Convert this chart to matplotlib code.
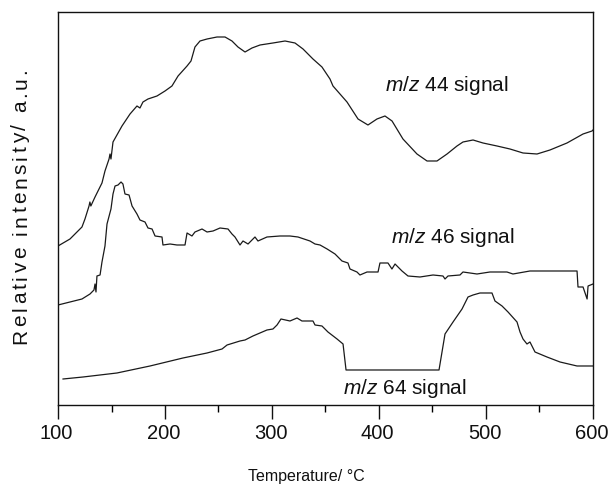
import numpy as np
import matplotlib
matplotlib.use("Agg")
import matplotlib.pyplot as plt
from matplotlib.ticker import MultipleLocator
from matplotlib.transforms import ScaledTranslation
from matplotlib.font_manager import FontProperties

plt.rcParams['font.family'] = ['Liberation Sans', 'DejaVu Sans']
plt.rcParams['mathtext.fontset'] = 'custom'
plt.rcParams['mathtext.it'] = 'Liberation Sans:italic'
plt.rcParams['mathtext.rm'] = 'Liberation Sans'

# m/z 44 signal (temperature in C, intensity in a.u.)
t44 = [100, 111.2, 122.4, 125.2, 129, 129.8, 130.7, 134.6, 141.1, 143.9, 147.7, 148.6, 149.5,
       151.4, 159.8, 167.3, 173.8, 176.6, 179.4, 184.1, 192.5, 200, 206.5, 212.2, 220.6,
       224.3, 228, 232.7, 239.3, 248.6, 256.1, 262.6, 268.2, 274.8, 281.3, 288.8, 300.9,
       312.2, 321.5, 329, 338.3, 346.7, 354.2, 357, 370.1, 380.4, 389.7, 398.1, 405.6,
       412.2, 422.4, 435.5, 444.9, 454.2, 463.6, 472.9, 478.5, 487.9, 497.2, 510.3, 522.4,
       534.6, 547.7, 559.8, 575.7, 590.7, 599.1, 600]
i44 = [158, 165, 177, 185, 198, 202, 198, 207, 221, 233, 245, 250, 245,
       262, 278, 290, 298, 296, 302, 305, 308, 313, 318, 328, 338,
       343, 357, 363, 365, 367, 367, 363, 357, 352, 356, 359, 361,
       363, 361, 355, 345, 337, 325, 318, 302, 285, 279, 285, 288,
       283, 265, 250, 243, 243, 250, 258, 262, 264, 261, 258, 255,
       251, 250, 254, 261, 270, 273, 274]

# m/z 46 signal
t46 = [100, 111.2, 122.4, 129.9, 133.6, 134.6, 135.5, 136.4, 139.3, 141.1, 143.9, 145.8,
       149.5, 151.4, 153.3, 156.1, 158.9, 160.7, 162.6, 166.4, 169.2, 173.8, 176.6, 181.3,
       184.1, 187.9, 190.7, 197.2, 198.1, 204.7, 211.2, 218.7, 220.6, 225.2, 228, 234.6,
       239.3, 244.9, 251.4, 258.9, 262.6, 265.4, 270.1, 272.9, 277.6, 284.1, 286.9, 295.3,
       307.5, 316.8, 324.3, 335.5, 340.2, 344.9, 351.5, 358.9, 365.4, 371, 372.9, 379.4,
       382.2, 388.8, 399.1, 400.9, 408.4, 412.1, 415, 421.5, 427.1, 438.3, 450.5, 459.8,
       461.7, 464.5, 475.7, 478.5, 491.6, 503.7, 519.6, 525.2, 541.1, 585.1, 586, 590.7,
       594.5, 595.4, 600]
i46 = [99, 102, 105, 110, 114, 120, 112, 128, 129, 142, 158, 180,
       195, 210, 218, 219, 222, 220, 210, 209, 198, 190, 184, 182,
       176, 175, 168, 167, 159, 160, 159, 159, 171, 168, 172, 175,
       172, 173, 176, 175, 170, 167, 159, 163, 160, 167, 163, 167,
       168, 168, 167, 163, 160, 159, 155, 150, 143, 141, 135, 132,
       129, 132, 132, 141, 141, 135, 140, 133, 128, 127, 129, 128,
       125, 128, 129, 132, 130, 132, 132, 130, 133, 133, 117, 117,
       105, 118, 120]

# m/z 64 signal
t64 = [104.7, 123.4, 155.1, 186, 216.8, 239.3, 253.3, 258, 270.1, 274.8, 282.2, 295.3,
       300.9, 304.7, 308.4, 316.8, 323.4, 328, 338.3, 340.2, 346.7, 352.3, 360.8, 366.4,
       369.2, 456.1, 461.7, 469.2, 477.6, 483.2, 487.9, 494.4, 505.6, 508.4, 515, 520.6,
       529, 531.8, 534.6, 538.3, 541.1, 545.8, 557, 569.2, 585.1, 600]
i64 = [25, 27, 31, 38, 46, 51, 55, 59, 63, 64, 68, 74,
       75, 79, 85, 83, 86, 83, 83, 79, 78, 72, 65, 60,
       34, 34, 70, 82, 95, 107, 109, 111, 111, 103, 98, 92,
       82, 72, 65, 60, 62, 52, 47, 42, 38, 38]

labels = [r'$\mathit{m/z}$ 44 signal', r'$\mathit{m/z}$ 46 signal', r'$\mathit{m/z}$ 64 signal']
label_pos = [(463, 314), (469, 162), (424, 11)]
ylab = 'Relative intensity/ a.u.'

fig = plt.figure(figsize=(6.08, 4.85), dpi=100)
ax = fig.add_axes([0.0954, 0.1629, 0.8799, 0.8103])

lc = '#1a1a1a'
ax.plot(t44, i44, color=lc, lw=0.9)
ax.plot(t46, i46, color=lc, lw=0.9)
ax.plot(t64, i64, color=lc, lw=0.9)

for txt, (x, y) in zip(labels, label_pos):
    ax.text(x, y, txt, ha='center', va='baseline', fontsize=15, color='#111111')

ax.set_xlim(100, 600)
ax.set_ylim(-1, 392)
ax.xaxis.set_major_locator(MultipleLocator(100))
ax.xaxis.set_minor_locator(MultipleLocator(50))
ax.set_yticks([])
ax.tick_params(axis='x', which='major', direction='out', length=10, width=1.0, pad=3,
               labelsize=14.5, colors='#111111')
ax.tick_params(axis='x', which='minor', direction='out', length=5, width=1.0)
for s in ax.spines.values():
    s.set_linewidth(1.0)
    s.set_color('#111111')
shift = ScaledTranslation(-1.5 / 100, 0, fig.dpi_scale_trans)
for lab in ax.get_xticklabels():
    lab.set_transform(lab.get_transform() + shift)

fig.text(306.7 / 608, 1 - 481 / 485, 'Temperature/ \u00b0C', ha='center', va='baseline',
         fontsize=11.5, color='#111111')

# the original y label is stretched along its length, so spread it character by character
r = fig.canvas.get_renderer()
fp = FontProperties(family=['Liberation Sans'], size=15)
def tw(s):
    return r.get_text_width_height_descent(s, fp, ismath=False)[0]
href = tw('H')
offs = [tw(ylab[:k] + 'H') - href for k in range(len(ylab))]
natural = tw(ylab)
track = (276 - natural) / (len(ylab) - 1)
y0 = 485 - 344
for k, ch in enumerate(ylab):
    if ch == ' ':
        continue
    fig.text(26.5 / 100, (y0 + offs[k] + k * track) / 100, ch, fontproperties=fp,
             rotation=90, rotation_mode='anchor', ha='left', va='baseline',
             color='#111111', transform=fig.dpi_scale_trans)

fig.savefig('out.png', dpi=100)
